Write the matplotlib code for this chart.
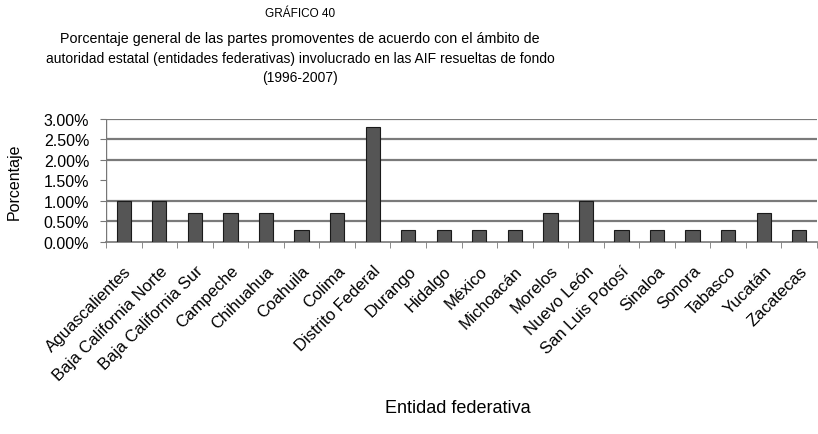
import matplotlib
matplotlib.use("Agg")
import matplotlib.pyplot as plt
from matplotlib.ticker import FuncFormatter

plt.rcParams['font.family'] = ['Liberation Sans Narrow', 'Liberation Sans', 'DejaVu Sans']

categories = ["Aguascalientes", "Baja California Norte", "Baja California Sur", "Campeche",
              "Chihuahua", "Coahuila", "Colima", "Distrito Federal", "Durango", "Hidalgo",
              "México", "Michoacán", "Morelos", "Nuevo León", "San Luis Potosí", "Sinaloa",
              "Sonora", "Tabasco", "Yucatán", "Zacatecas"]
values = [1.0, 1.0, 0.7, 0.7, 0.7, 0.3, 0.7, 2.8, 0.3, 0.3,
          0.3, 0.3, 0.7, 1.0, 0.3, 0.3, 0.3, 0.3, 0.7, 0.3]
yticks = [0.0, 0.5, 1.0, 1.5, 2.0, 2.5, 3.0]
grid_values = [0.5, 1.0, 2.0, 2.5, 3.0]

fig = plt.figure(figsize=(8.18, 4.35), dpi=100)
ax = fig.add_axes([0.1296, 0.4414, 0.8692, 0.2828])

x = list(range(len(categories)))
ax.bar(x, values, width=0.4, color='#555555', edgecolor='#1a1a1a', linewidth=0.8, zorder=3)
for g in grid_values:
    ax.axhline(g, color='#7a7a7a', linewidth=1.6, zorder=1)

ax.set_xlim(-0.5, len(categories) - 0.5)
ax.set_ylim(0, 3.0)
ax.set_yticks(yticks)
ax.yaxis.set_major_formatter(FuncFormatter(lambda v, p: f"{v:.2f}%"))
ax.set_xticks(x)
ax.set_xticklabels(categories, rotation=45, ha='right', rotation_mode='anchor', fontsize=12)
ax.set_xticks([i - 0.5 for i in range(len(categories) + 1)], minor=True)
ax.tick_params(axis='x', which='major', length=0, pad=15)
ax.tick_params(axis='x', which='minor', length=4, color='#777777')
ax.tick_params(axis='y', length=4, labelsize=11.5, color='#777777', pad=8)

for s in ['top', 'right', 'left']:
    ax.spines[s].set_visible(False)
ax.spines['bottom'].set_color('#777777')
ax.spines['bottom'].set_linewidth(1.2)
ax.axvline(-0.5, color='#777777', linewidth=1.0, zorder=2)

ax.set_ylabel("Porcentaje", fontsize=11.5, labelpad=16)
fig.text(0.56, 0.06, "Entidad federativa", ha='center', va='center', fontsize=13)

fig.text(0.367, 0.968, "GRÁFICO 40", ha='center', va='center', fontsize=8.5)
fig.text(0.367, 0.91, "Porcentaje general de las partes promoventes de acuerdo con el ámbito de",
         ha='center', va='center', fontsize=10.3)
fig.text(0.367, 0.865, "autoridad estatal (entidades federativas) involucrado en las AIF resueltas de fondo",
         ha='center', va='center', fontsize=10)
fig.text(0.367, 0.82, "(1996-2007)", ha='center', va='center', fontsize=10)

fig.savefig("out.png", dpi=100)
